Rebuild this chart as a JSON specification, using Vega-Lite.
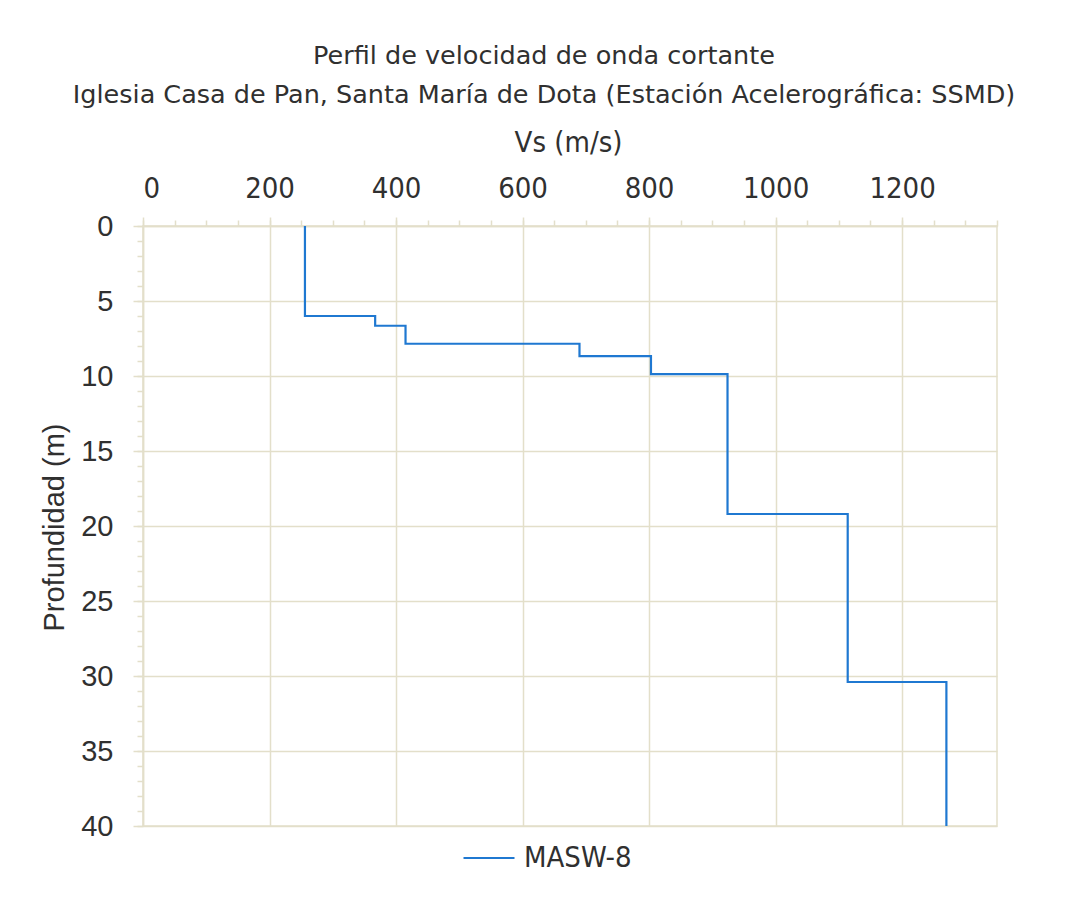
{
  "$schema": "https://vega.github.io/schema/vega-lite/v6.json",
  "width": 854,
  "height": 600,
  "autosize": "none",
  "padding": {"left": 143, "top": 226, "right": 74, "bottom": 75},
  "background": "white",
  "config": {
    "view": {"stroke": "#e3dfca", "strokeWidth": 1.5},
    "title": {"font": "DejaVu Sans", "fontSize": 25.5, "fontWeight": "normal", "color": "#303030"}
  },
  "title": {
    "text": ["Perfil de velocidad de onda cortante", "Iglesia Casa de Pan, Santa María de Dota (Estación Acelerográfica: SSMD)"],
    "anchor": "middle",
    "frame": "group",
    "dx": -26,
    "lineHeight": 39,
    "offset": 20
  },
  "data": {
    "values": [
      {"vs": 256, "prof": 0, "serie": "MASW-8"},
      {"vs": 256, "prof": 6.0, "serie": "MASW-8"},
      {"vs": 367, "prof": 6.0, "serie": "MASW-8"},
      {"vs": 367, "prof": 6.65, "serie": "MASW-8"},
      {"vs": 415, "prof": 6.65, "serie": "MASW-8"},
      {"vs": 415, "prof": 7.85, "serie": "MASW-8"},
      {"vs": 690, "prof": 7.85, "serie": "MASW-8"},
      {"vs": 690, "prof": 8.67, "serie": "MASW-8"},
      {"vs": 803, "prof": 8.67, "serie": "MASW-8"},
      {"vs": 803, "prof": 9.87, "serie": "MASW-8"},
      {"vs": 924, "prof": 9.87, "serie": "MASW-8"},
      {"vs": 924, "prof": 19.2, "serie": "MASW-8"},
      {"vs": 1114, "prof": 19.2, "serie": "MASW-8"},
      {"vs": 1114, "prof": 30.4, "serie": "MASW-8"},
      {"vs": 1270, "prof": 30.4, "serie": "MASW-8"},
      {"vs": 1270, "prof": 40, "serie": "MASW-8"}
    ]
  },
  "resolve": {"axis": {"x": "independent", "y": "independent"}},
  "layer": [
    {
      "mark": {"type": "line", "strokeOpacity": 0},
      "encoding": {
        "x": {"field": "vs", "type": "quantitative", "scale": {"domain": [0, 1350], "nice": false},
          "axis": {"orient": "top", "values": [0,50,100,150,200,250,300,350,400,450,500,550,600,650,700,750,800,850,900,950,1000,1050,1100,1150,1200,1250,1300,1350],
            "labels": false, "grid": false, "domain": false, "title": null, "tickSize": 6, "tickColor": "#e3dfca", "tickWidth": 1.5}},
        "y": {"field": "prof", "type": "quantitative", "scale": {"domain": [0, 40], "nice": false, "reverse": true},
          "axis": {"orient": "left", "values": [0,1,2,3,4,5,6,7,8,9,10,11,12,13,14,15,16,17,18,19,20,21,22,23,24,25,26,27,28,29,30,31,32,33,34,35,36,37,38,39,40],
            "labels": false, "grid": false, "domain": false, "title": null, "tickSize": 6, "tickColor": "#e3dfca", "tickWidth": 1.5}},
        "order": {"value": null}
      }
    },
    {
      "mark": {"type": "line", "strokeWidth": 2.2},
      "encoding": {
        "x": {"field": "vs", "type": "quantitative", "scale": {"domain": [0, 1350], "nice": false},
          "axis": {"orient": "top", "values": [0,200,400,600,800,1000,1200], "format": "d", "title": "Vs (m/s)",
            "grid": true, "gridColor": "#e3dfca", "gridWidth": 1.5,
            "domain": true, "domainColor": "#e3dfca", "domainWidth": 1.5,
            "tickSize": 9, "tickColor": "#e3dfca", "tickWidth": 1.5,
            "labelFont": "DejaVu Sans Condensed", "labelFontSize": 29, "labelColor": "#303030", "labelPadding": 14,
            "titleFont": "DejaVu Sans Condensed", "titleFontSize": 29, "titleFontWeight": "normal", "titleColor": "#303030",
            "titleX": 425, "titleY": -75, "titleBaseline": "alphabetic", "titleAlign": "center"}},
        "y": {"field": "prof", "type": "quantitative", "scale": {"domain": [0, 40], "nice": false, "reverse": true},
          "axis": {"orient": "left", "values": [0,5,10,15,20,25,30,35,40], "format": "d", "title": "Profundidad (m)",
            "grid": true, "gridColor": "#e3dfca", "gridWidth": 1.5,
            "domain": true, "domainColor": "#e3dfca", "domainWidth": 1.5,
            "tickSize": 10, "tickColor": "#e3dfca", "tickWidth": 1.5,
            "labelFont": "Liberation Sans", "labelFontSize": 29, "labelColor": "#303030", "labelPadding": 20,
            "titleFont": "Liberation Sans", "titleFontSize": 29, "titleFontWeight": "normal", "titleColor": "#303030",
            "titleX": -80, "titleY": 301, "titleBaseline": "alphabetic", "titleAlign": "center", "titleAngle": -90}},
        "color": {"field": "serie", "type": "nominal", "scale": {"range": ["#1f78d1"]},
          "legend": {"orient": "none", "legendX": 319, "legendY": 605, "title": null, "padding": 0,
            "symbolType": "stroke", "symbolSize": 2601, "symbolStrokeWidth": 2.2, "labelOffset": 8,
            "labelFont": "DejaVu Sans Condensed", "labelFontSize": 29, "labelColor": "#303030"}},
        "order": {"value": null}
      }
    }
  ]
}
